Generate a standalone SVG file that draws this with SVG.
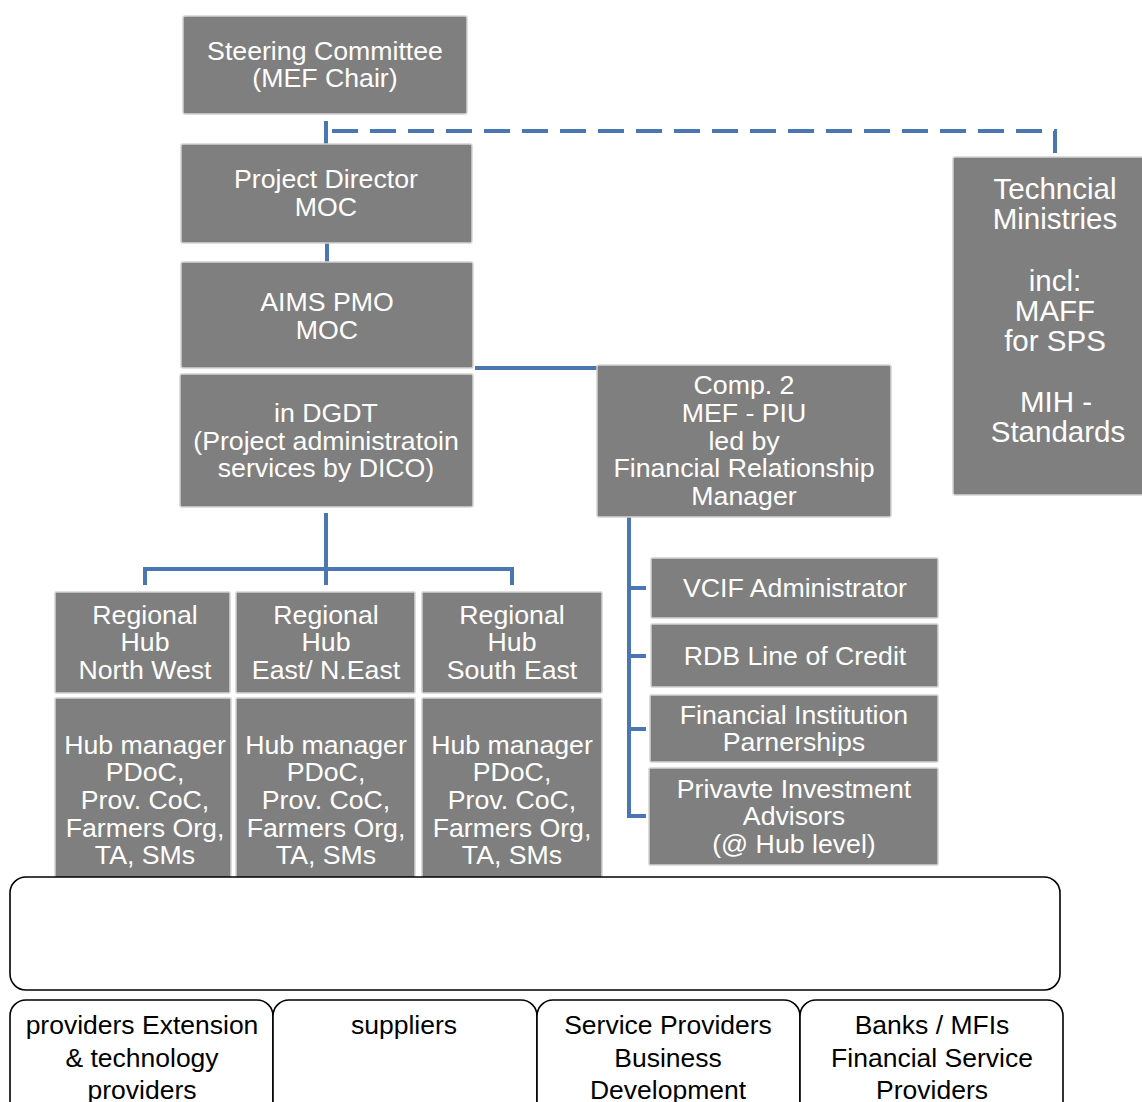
<svg xmlns="http://www.w3.org/2000/svg" width="1142" height="1102" viewBox="0 0 1142 1102">
  <style>
    .box { fill: #7f7f7f; stroke: #d4d4d4; stroke-width: 1.5; }
    .lbl { font-family: "Liberation Sans", Arial, sans-serif; font-size: 26.7px; fill: #ffffff; text-anchor: middle; }
    .big { font-size: 29.5px; }
    .ext { fill: #ffffff; stroke: #000000; stroke-width: 1.6; }
    .ext-lbl { font-family: "Liberation Sans", Arial, sans-serif; font-size: 26.5px; fill: #000000; text-anchor: middle; }
    .link { fill: none; stroke: #4a76b2; stroke-width: 4; }
    .dash { fill: none; stroke: #4a76b2; stroke-width: 4; stroke-dasharray: 26 12; }
  </style>
  <rect width="1142" height="1102" fill="#ffffff"/>

  <!-- connectors -->
  <g id="connectors">
    <path class="link" d="M326 121 V144"/>
    <path class="dash" d="M332 131 H1055 V153"/>
    <path class="link" d="M327 243 V262"/>
    <path class="link" d="M475 368 H745"/>
    <path class="link" d="M326 513 V585 M145 585 V569 H512 V585"/>
    <path class="link" d="M629 517 V818 M629 588 H646 M629 656 H646 M629 729 H646 M629 816 H646"/>
  </g>

  <g id="steering">
    <rect class="box" x="183" y="16" width="284" height="98" rx="2"/>
    <text class="lbl" x="325" y="60">Steering Committee</text>
    <text class="lbl" x="325" y="87">(MEF Chair)</text>
  </g>
  <g id="project-director">
    <rect class="box" x="181" y="144" width="291" height="99" rx="2"/>
    <text class="lbl" x="326" y="188">Project Director</text>
    <text class="lbl" x="326" y="216">MOC</text>
  </g>
  <g id="aims-pmo">
    <rect class="box" x="181" y="262" width="292" height="106" rx="2"/>
    <text class="lbl" x="327" y="311">AIMS PMO</text>
    <text class="lbl" x="327" y="339">MOC</text>
  </g>
  <g id="dgdt">
    <rect class="box" x="180" y="374" width="293" height="133" rx="2"/>
    <text class="lbl" x="326" y="422">in DGDT</text>
    <text class="lbl" x="326" y="450">(Project administratoin</text>
    <text class="lbl" x="326" y="477">services by DICO)</text>
  </g>
  <g id="comp2">
    <rect class="box" x="597" y="365" width="294" height="152" rx="2"/>
    <text class="lbl" x="744" y="394">Comp. 2</text>
    <text class="lbl" x="744" y="422">MEF - PIU</text>
    <text class="lbl" x="744" y="450">led by</text>
    <text class="lbl" x="744" y="477">Financial Relationship</text>
    <text class="lbl" x="744" y="505">Manager</text>
  </g>
  <g id="technical-ministries">
    <rect class="box" x="953" y="157" width="200" height="338" rx="2"/>
    <text class="lbl big" x="1055" y="199">Techncial</text>
    <text class="lbl big" x="1055" y="229">Ministries</text>
    <text class="lbl big" x="1055" y="291">incl:</text>
    <text class="lbl big" x="1055" y="321">MAFF</text>
    <text class="lbl big" x="1055" y="351">for SPS</text>
    <text class="lbl big" x="1056" y="412">MIH -</text>
    <text class="lbl big" x="1058" y="442">Standards</text>
  </g>

  <g id="hub-nw">
    <rect class="box" x="55" y="592" width="175" height="101" rx="1"/>
    <text class="lbl" x="145" y="624">Regional</text>
    <text class="lbl" x="145" y="651">Hub</text>
    <text class="lbl" x="145" y="679">North West</text>
  </g>
  <g id="hub-east">
    <rect class="box" x="236" y="592" width="179" height="101" rx="1"/>
    <text class="lbl" x="326" y="624">Regional</text>
    <text class="lbl" x="326" y="651">Hub</text>
    <text class="lbl" x="326" y="679">East/ N.East</text>
  </g>
  <g id="hub-se">
    <rect class="box" x="422" y="592" width="180" height="101" rx="1"/>
    <text class="lbl" x="512" y="624">Regional</text>
    <text class="lbl" x="512" y="651">Hub</text>
    <text class="lbl" x="512" y="679">South East</text>
  </g>
  <g id="hub-nw-staff">
    <rect class="box" x="55" y="698" width="176" height="195" rx="1"/>
    <text class="lbl" x="145" y="754">Hub manager</text>
    <text class="lbl" x="145" y="781">PDoC,</text>
    <text class="lbl" x="145" y="809">Prov. CoC,</text>
    <text class="lbl" x="145" y="837">Farmers Org,</text>
    <text class="lbl" x="145" y="864">TA, SMs</text>
  </g>
  <g id="hub-east-staff">
    <rect class="box" x="236" y="698" width="179" height="195" rx="1"/>
    <text class="lbl" x="326" y="754">Hub manager</text>
    <text class="lbl" x="326" y="781">PDoC,</text>
    <text class="lbl" x="326" y="809">Prov. CoC,</text>
    <text class="lbl" x="326" y="837">Farmers Org,</text>
    <text class="lbl" x="326" y="864">TA, SMs</text>
  </g>
  <g id="hub-se-staff">
    <rect class="box" x="422" y="698" width="180" height="195" rx="1"/>
    <text class="lbl" x="512" y="754">Hub manager</text>
    <text class="lbl" x="512" y="781">PDoC,</text>
    <text class="lbl" x="512" y="809">Prov. CoC,</text>
    <text class="lbl" x="512" y="837">Farmers Org,</text>
    <text class="lbl" x="512" y="864">TA, SMs</text>
  </g>

  <g id="vcif">
    <rect class="box" x="651" y="558" width="287" height="60" rx="1"/>
    <text class="lbl" x="795" y="597">VCIF Administrator</text>
  </g>
  <g id="rdb">
    <rect class="box" x="651" y="624" width="287" height="63" rx="1"/>
    <text class="lbl" x="795" y="665">RDB Line of Credit</text>
  </g>
  <g id="fip">
    <rect class="box" x="650" y="695" width="288" height="67" rx="1"/>
    <text class="lbl" x="794" y="724">Financial Institution</text>
    <text class="lbl" x="794" y="751">Parnerships</text>
  </g>
  <g id="pia">
    <rect class="box" x="649" y="768" width="289" height="97" rx="1"/>
    <text class="lbl" x="794" y="798">Privavte Investment</text>
    <text class="lbl" x="794" y="825">Advisors</text>
    <text class="lbl" x="794" y="853">(@ Hub level)</text>
  </g>

  <g id="frame">
    <rect class="ext" x="10" y="877" width="1050" height="113" rx="16"/>
  </g>
  <g id="ext-providers">
    <rect class="ext" x="10" y="1000" width="263" height="130" rx="16"/>
    <text class="ext-lbl" x="142" y="1034">providers Extension</text>
    <text class="ext-lbl" x="142" y="1067">&amp; technology</text>
    <text class="ext-lbl" x="142" y="1099">providers</text>
  </g>
  <g id="suppliers">
    <rect class="ext" x="273" y="1000" width="264" height="130" rx="16"/>
    <text class="ext-lbl" x="404" y="1034">suppliers</text>
  </g>
  <g id="bds">
    <rect class="ext" x="537" y="1000" width="263" height="130" rx="16"/>
    <text class="ext-lbl" x="668" y="1034">Service Providers</text>
    <text class="ext-lbl" x="668" y="1067">Business</text>
    <text class="ext-lbl" x="668" y="1099">Development</text>
  </g>
  <g id="banks">
    <rect class="ext" x="800" y="1000" width="263" height="130" rx="16"/>
    <text class="ext-lbl" x="932" y="1034">Banks / MFIs</text>
    <text class="ext-lbl" x="932" y="1067">Financial Service</text>
    <text class="ext-lbl" x="932" y="1099">Providers</text>
  </g>
</svg>
